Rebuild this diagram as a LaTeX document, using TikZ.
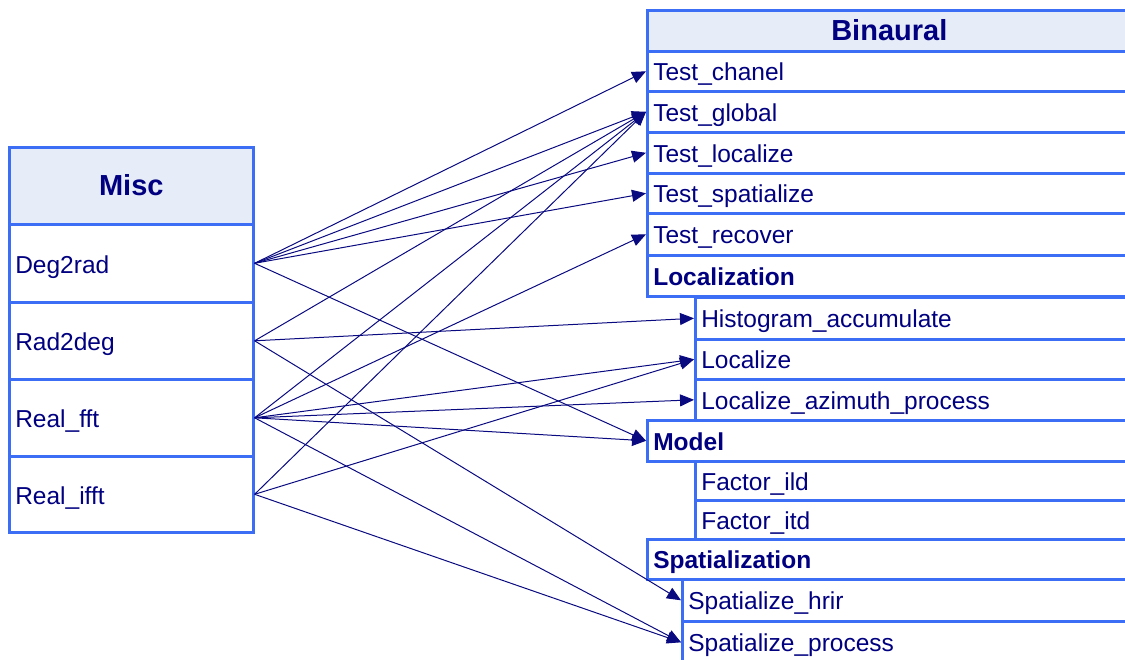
\documentclass[tikz,border=0pt]{standalone}
\usepackage{fontspec}
\setmainfont{Liberation Sans}
\usetikzlibrary{arrows.meta}
\definecolor{edgeblue}{RGB}{59,110,245}
\definecolor{navytext}{RGB}{0,0,128}
\definecolor{headfill}{RGB}{230,237,248}
\definecolor{linknavy}{RGB}{10,10,128}
\tikzset{
  cell/.style={draw=edgeblue, line width=2.6pt, fill=white, text=navytext,
    anchor=north west, inner xsep=6pt, inner ysep=0pt, align=left,
    text height=19pt, text depth=0pt,
    font=\fontsize{24.5}{28}\selectfont},
  headcell/.style={cell, fill=headfill, align=center, text height=19.5pt,
    font=\fontsize{29}{32}\selectfont\bfseries},
  groupcell/.style={cell, font=\fontsize{24.5}{28}\selectfont\bfseries},
  link/.style={draw=linknavy, line width=1pt, -{Triangle[length=14pt,width=12pt]}}
}
\begin{document}
\begin{tikzpicture}[x=1pt,y=-1pt]
\useasboundingbox (0,0) rectangle (1125,660);
\clip (0,0) rectangle (1125,660);

% Misc package
\node[headcell, text width=232pt, minimum height=77pt, text height=20pt] (misc) at (8,146) {Misc};
\node[cell, text width=232pt, minimum height=78pt, text height=20pt] (deg) at (8,223) {Deg2rad};
\node[cell, text width=232pt, minimum height=77pt, text height=20pt] (rad) at (8,301) {Rad2deg};
\node[cell, text width=232pt, minimum height=77pt, text height=20pt] (fft) at (8,378) {Real\_fft};
\node[cell, text width=232pt, minimum height=76pt, text height=20pt] (ifft) at (8,455) {Real\_ifft};

% Binaural package
\node[headcell, text width=472pt, minimum height=41pt] (bin) at (646,9) {Binaural};
\node[cell, text width=472pt, minimum height=40pt] (tchan) at (646,50) {Test\_chanel};
\node[cell, text width=472pt, minimum height=41pt] (tglob) at (646,90) {Test\_global};
\node[cell, text width=472pt, minimum height=41pt] (tloc) at (646,131) {Test\_localize};
\node[cell, text width=472pt, minimum height=40pt] (tspat) at (646,172) {Test\_spatialize};
\node[cell, text width=472pt, minimum height=42pt] (trec) at (646,212) {Test\_recover};

\node[groupcell, text width=472pt, minimum height=41pt] (locz) at (646,254) {Localization};
\node[cell, text width=424pt, minimum height=42pt] (hist) at (694,296) {Histogram\_accumulate};
\node[cell, text width=424pt, minimum height=40pt] (loc) at (694,338) {Localize};
\node[cell, text width=424pt, minimum height=41pt] (locaz) at (694,378) {Localize\_azimuth\_process};

\node[groupcell, text width=472pt, minimum height=41pt] (model) at (646,419) {Model};
\node[cell, text width=424pt, minimum height=39pt] (fild) at (694,460) {Factor\_ild};
\node[cell, text width=424pt, minimum height=39pt] (fitd) at (694,499) {Factor\_itd};

\node[groupcell, text width=472pt, minimum height=40pt] (spatz) at (646,538) {Spatialization};
\node[cell, text width=437pt, minimum height=42pt] (shrir) at (681,578) {Spatialize\_hrir};
\node[cell, text width=437pt, minimum height=42pt] (sproc) at (681,620) {Spatialize\_process};

% dependencies
\draw[link] (deg.east) -- (tchan.west);
\draw[link] (deg.east) -- (tglob.west);
\draw[link] (deg.east) -- (tloc.west);
\draw[link] (deg.east) -- (tspat.west);
\draw[link] (deg.east) -- (model.west);

\draw[link] (rad.east) -- (tglob.west);
\draw[link] (rad.east) -- (hist.west);
\draw[link] (rad.east) -- (shrir.west);

\draw[link] (fft.east) -- (tglob.west);
\draw[link] (fft.east) -- (trec.west);
\draw[link] (fft.east) -- (loc.west);
\draw[link] (fft.east) -- (locaz.west);
\draw[link] (fft.east) -- (model.west);
\draw[link] (fft.east) -- (sproc.west);

\draw[link] (ifft.east) -- (tglob.west);
\draw[link] (ifft.east) -- (loc.west);
\draw[link] (ifft.east) -- (sproc.west);
\end{tikzpicture}
\end{document}
